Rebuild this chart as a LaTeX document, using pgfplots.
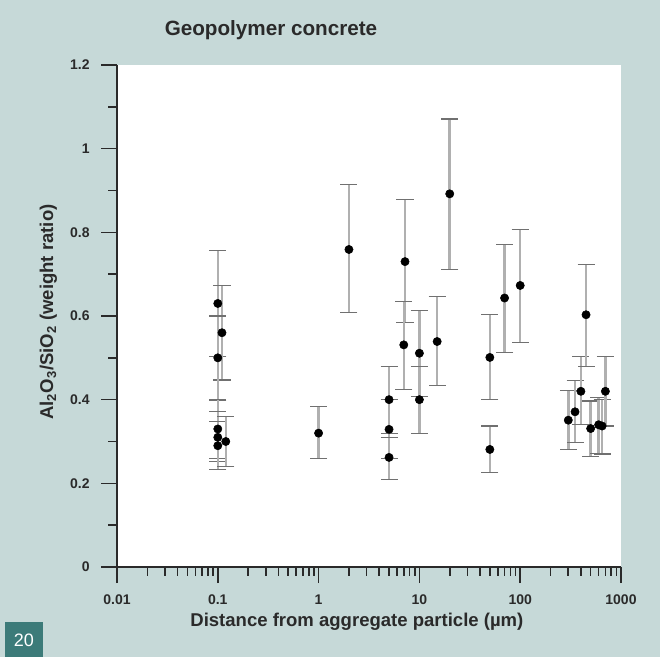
\documentclass[border=0pt]{standalone}
\usepackage{pgfplots}
\pgfplotsset{compat=1.18}
\usepackage{pgfplotstable}
\usepackage{fontspec}
\setmainfont{Liberation Sans}
\definecolor{bgc}{HTML}{C6D9D8}
\definecolor{boxc}{HTML}{3C7B79}
\definecolor{txtc}{HTML}{2A2A2A}
\definecolor{barc}{HTML}{B0B0B0}
\definecolor{capc}{HTML}{707070}

\pgfplotstableread{
x     y      ep     em
0.1   0.630  0.126  0.126
0.11  0.560  0.112  0.113
0.1   0.500  0.100  0.102
0.1   0.330  0.070  0.070
0.1   0.310  0.061  0.058
0.1   0.290  0.057  0.056
0.12  0.300  0.060  0.059
1     0.320  0.063  0.060
2     0.759  0.156  0.150
5     0.400  0.079  0.080
5     0.329  0.071  0.069
5     0.262  0.048  0.052
7.2   0.730  0.149  0.145
7     0.531  0.103  0.106
10    0.511  0.102  0.104
10    0.400  0.079  0.080
15    0.539  0.107  0.106
20    0.892  0.179  0.180
50    0.501  0.103  0.101
50    0.281  0.056  0.056
70    0.643  0.128  0.130
100   0.673  0.133  0.137
300   0.351  0.070  0.070
350   0.371  0.074  0.074
400   0.420  0.084  0.080
450   0.603  0.121  0.123
500   0.331  0.066  0.066
600   0.340  0.065  0.068
650   0.337  0.063  0.067
700   0.420  0.084  0.083
}\datatable

\begin{document}
\begin{tikzpicture}
\path[use as bounding box] (0pt,0pt) rectangle (495pt,492.75pt);
\fill[bgc] (0pt,0pt) rectangle (495pt,492.75pt);
\fill[boxc] (3.75pt,0pt) rectangle (32.25pt,26.25pt);
\node[white, font=\fontsize{13.5}{14}\selectfont] at (18pt,12.75pt) {20};
\node[txtc, font=\fontsize{15.5}{17}\selectfont\bfseries] at (203.25pt,470.25pt) {Geopolymer concrete};
\begin{axis}[
  at={(87.75pt,67.5pt)}, anchor=south west,
  scale only axis, width=378pt, height=376.5pt,
  xmode=log, xmin=0.01, xmax=1000, ymin=0, ymax=1.2,
  axis x line*=bottom, axis y line*=left,
  axis line style={txtc, line width=1.3pt, -},
  axis background/.style={fill=white},
  tick align=outside,
  major tick length=12pt, minor tick length=6.5pt,
  every tick/.style={txtc, line width=1.2pt},
  xtick={0.01,0.1,1,10,100,1000},
  xticklabels={0.01,0.1,1,10,100,1000},
  ytick={0,0.2,0.4,0.6,0.8,1,1.2},
  yticklabels={0,0.2,0.4,0.6,0.8,1,1.2},
  minor ytick={0.1,0.3,0.5,0.7,0.9,1.1},
  tick label style={txtc, font=\fontsize{10.5}{11}\selectfont\bfseries},
  xticklabel style={yshift=-5pt},
  yticklabel style={xshift=-5pt},
  xlabel={Distance from aggregate particle (µm)},
  ylabel={Al\textsubscript{2}O\textsubscript{3}/SiO\textsubscript{2} (weight ratio)},
  label style={txtc, font=\fontsize{13.9}{15}\selectfont\bfseries},
  xlabel style={at={(axis description cs:0.476,-0.109)}, anchor=center},
  ylabel style={at={(axis description cs:-0.136,0.508)}, anchor=center},
  clip=false,
]
\addplot[only marks, mark=*, mark size=3.1pt, black,
  error bars/.cd, y dir=both, y explicit,
  error bar style={draw=barc, line width=1.9pt},
  error mark options={draw=capc, rotate=90, mark size=6.4pt, line width=0.9pt}]
  table[x=x, y=y, y error plus=ep, y error minus=em] {\datatable};
\end{axis}
\end{tikzpicture}
\end{document}
